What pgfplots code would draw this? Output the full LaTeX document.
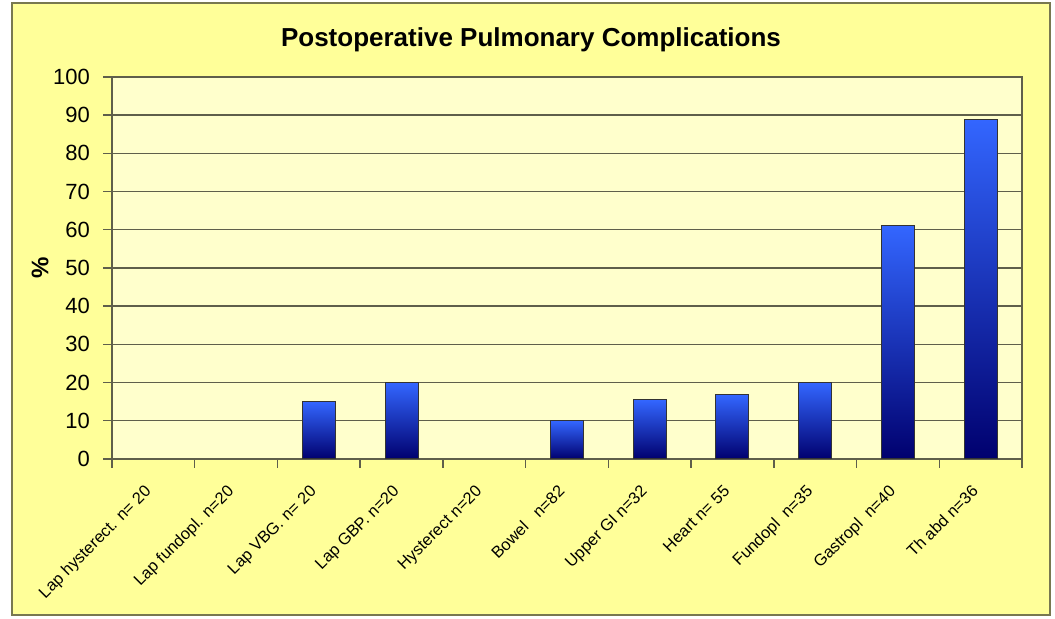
\documentclass[border=0pt]{standalone}
\usepackage{pgfplots}
\pgfplotsset{compat=1.18}
\usepackage{fontspec}
\setmainfont{Liberation Sans}
\definecolor{outerbg}{RGB}{255,255,153}
\definecolor{innerbg}{RGB}{255,255,204}
\definecolor{framec}{RGB}{120,120,80}
\definecolor{gridc}{RGB}{95,95,75}
\definecolor{bartop}{RGB}{51,102,255}
\definecolor{barbot}{RGB}{0,0,110}
\begin{document}
\begin{tikzpicture}
\path[fill=white] (-56pt,-80pt) rectangle (471.5pt,229.5pt);
\filldraw[fill=outerbg, draw=framec, line width=1.2pt] (-50pt,-78pt) rectangle (469pt,228pt);
\node[font=\bfseries\fontsize{13}{15}\selectfont] at (209.5pt,209.5pt) {Postoperative Pulmonary Complications};
\pgfplotsset{mybar/.style={ybar, bar shift=0pt, draw=black!80, line width=0.5pt, top color=bartop, bottom color=barbot}}
\begin{axis}[
  scale only axis,
  width=455pt, height=191pt,
  xmin=-0.5, xmax=10.5,
  ymin=0, ymax=100,
  ytick={0,10,...,100},
  xtick={0,...,10},
  xticklabels={{Lap hysterect. n= 20},{Lap fundopl. n=20},{Lap VBG. n= 20},{Lap GBP. n=20},{Hysterect n=20},{Bowel\ \ \ n=82},{Upper GI n=32},{Heart n= 55},{Fundopl\ \ n=35},{Gastropl\ \ n=40},{Th abd n=36}},
  minor xtick={-0.5,0.5,...,10.5},
  major x tick style={draw=none},
  minor x tick style={draw=gridc, line width=0.7pt},
  tick align=outside,
  tick pos=left,
  minor tick length=4.5pt,
  major tick length=4.5pt,
  ytick style={draw=gridc, line width=0.7pt},
  x tick label style={rotate=45, anchor=north east, font=\fontsize{8.2}{9}\selectfont, inner sep=1pt, xshift=-8pt, yshift=-1pt},
  y tick label style={font=\fontsize{11}{12}\selectfont, xshift=-3pt},
  /pgf/number format/assume math mode=true,
  ymajorgrids,
  grid style={draw=gridc, line width=0.7pt},
  axis background/.style={fill=innerbg},
  axis line style={draw=gridc, line width=0.8pt},
  ylabel={\textbf{\%}},
  every axis y label/.style={at={(rel axis cs:0,0.5)}, xshift=-36pt, rotate=90, anchor=center, font=\fontsize{12}{13}\selectfont},
  bar width=16.5pt,
]
\addplot[mybar] coordinates {(2,15)};
\addplot[mybar] coordinates {(3,20)};
\addplot[mybar] coordinates {(5,10)};
\addplot[mybar] coordinates {(6,15.5)};
\addplot[mybar] coordinates {(7,16.8)};
\addplot[mybar] coordinates {(8,20)};
\addplot[mybar] coordinates {(9,61)};
\addplot[mybar] coordinates {(10,89)};
\end{axis}
\end{tikzpicture}
\end{document}
